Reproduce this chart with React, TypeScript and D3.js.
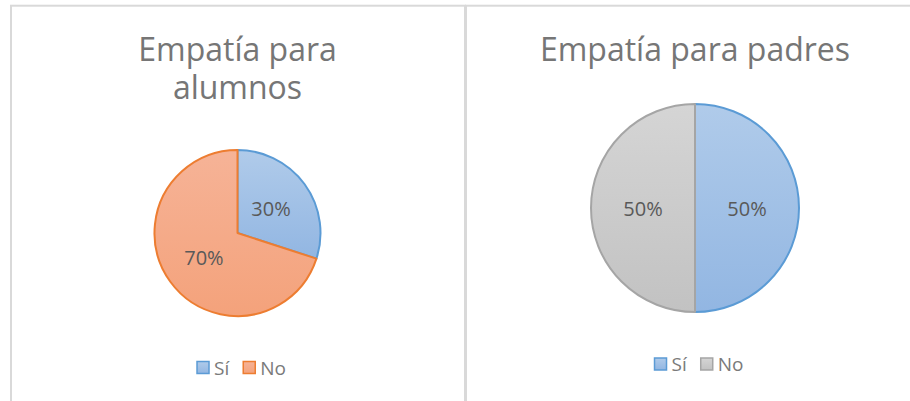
import { useRef, useEffect } from 'react'
import * as d3 from 'd3'

// categories + values
const categories = ['Sí', 'No']
const alumnosValues = [30, 70]
const padresValues = [50, 50]
const alumnosTitle = ['Empatía para', 'alumnos']
const padresTitle = ['Empatía para padres']

const FONT = "'Open Sans', 'DejaVu Sans', sans-serif"

// fill gradient (top, bottom) and outline per slice colour
const palette = {
  blue: { top: '#b0cbea', bottom: '#92b6e2', stroke: '#5b9bd5' },
  orange: { top: '#f6b397', bottom: '#f4a27b', stroke: '#ed7d31' },
  gray: { top: '#d5d5d5', bottom: '#c2c2c2', stroke: '#a5a5a5' },
}

const panels = [
  {
    id: 'alumnos',
    title: alumnosTitle,
    values: alumnosValues,
    colors: ['blue', 'orange'],
    x0: 11, x1: 465,
    cx: 237.5, cy: 233, r: 83,
    titleY: 61, legendY: 367.5,
  },
  {
    id: 'padres',
    title: padresTitle,
    values: padresValues,
    colors: ['blue', 'gray'],
    x0: 466, x1: 925,
    cx: 695, cy: 208, r: 104,
    titleY: 61, legendY: 364,
  },
]

export default function App() {
  const svgRef = useRef<SVGSVGElement>(null)

  useEffect(() => {
    const svg = d3.select(svgRef.current)
    svg.selectAll('*').remove()

    const defs = svg.append('defs')
    Object.entries(palette).forEach(([k, c]) => {
      const g = defs.append('linearGradient')
        .attr('id', `grad-${k}`)
        .attr('x1', 0).attr('y1', 0).attr('x2', 0).attr('y2', 1)
      g.append('stop').attr('offset', '0%').attr('stop-color', c.top)
      g.append('stop').attr('offset', '100%').attr('stop-color', c.bottom)
    })

    panels.forEach((p) => {
      // chart area border
      svg.append('rect')
        .attr('x', p.x0).attr('y', 5.7)
        .attr('width', p.x1 - p.x0).attr('height', 420)
        .attr('fill', '#fff')
        .attr('stroke', '#d9d9d9').attr('stroke-width', 2)

      const midX = (p.x0 + p.x1) / 2

      // title
      const title = svg.append('text')
        .attr('text-anchor', 'middle')
        .attr('fill', '#767676')
        .attr('font-family', FONT)
        .attr('font-size', '32px')
      p.title.forEach((line, i) => {
        title.append('tspan')
          .attr('x', p.cx).attr('y', p.titleY + i * 38)
          .text(line)
      })

      // pie
      const pie = d3.pie<number>().sort(null).value((d) => d)
      const arcs = pie(p.values)
      const arc = d3.arc<d3.PieArcDatum<number>>().innerRadius(0).outerRadius(p.r)
      const total = d3.sum(p.values)
      const g = svg.append('g').attr('transform', `translate(${p.cx},${p.cy})`)

      g.selectAll('path')
        .data(arcs)
        .join('path')
        .attr('d', arc)
        .attr('fill', (_, i) => `url(#grad-${p.colors[i]})`)
        .attr('stroke', (_, i) => palette[p.colors[i]].stroke)
        .attr('stroke-width', 2)
        .attr('stroke-linejoin', 'round')

      g.selectAll('text')
        .data(arcs)
        .join('text')
        .attr('transform', (d) => `translate(${arc.centroid(d)})`)
        .attr('text-anchor', 'middle')
        .attr('dominant-baseline', 'central')
        .attr('fill', '#595959')
        .attr('font-family', FONT)
        .attr('font-size', '20px')
        .text((d) => d3.format('.0%')(d.data / total))

      // legend, centred under the panel
      const sw = 12
      const leg = svg.append('g')
      const items = categories.map((c, i) => {
        const item = leg.append('g')
        item.append('rect')
          .attr('width', sw).attr('height', sw)
          .attr('y', -sw / 2)
          .attr('fill', `url(#grad-${p.colors[i]})`)
          .attr('stroke', palette[p.colors[i]].stroke)
          .attr('stroke-width', 1.5)
        const t = item.append('text')
          .attr('x', sw + 5)
          .attr('dominant-baseline', 'central')
          .attr('fill', '#7a7a7a')
          .attr('font-family', FONT)
          .attr('font-size', '19px')
          .text(c)
        const w = sw + 5 + (t.node() as SVGTextElement).getComputedTextLength()
        return { item, w }
      })
      const gap = 14
      const totalW = d3.sum(items, (d) => d.w) + gap * (items.length - 1)
      let x = p.cx + 4 - totalW / 2
      items.forEach(({ item, w }) => {
        item.attr('transform', `translate(${x},${p.legendY})`)
        x += w + gap
      })
      void midX
    })
  }, [])

  return (
    <svg
      ref={svgRef}
      width={910}
      height={401}
      style={{ position: 'absolute', left: 0, top: 0, background: '#fff' }}
    />
  )
}
